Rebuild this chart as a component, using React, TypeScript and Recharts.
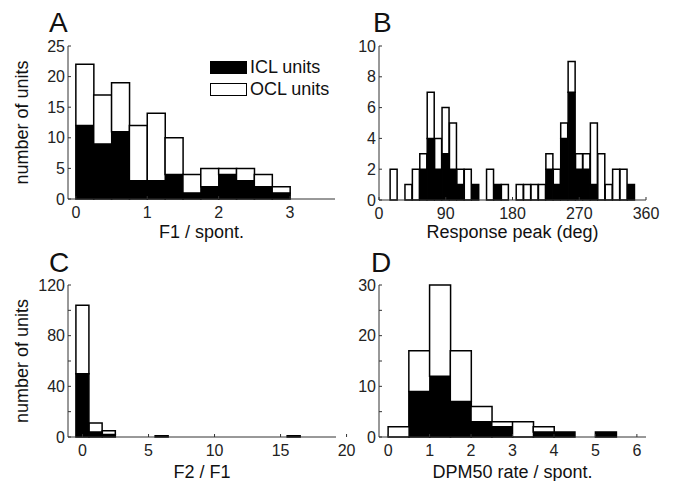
import React from 'react';
import { BarChart, Bar, XAxis, YAxis, Legend } from 'recharts';

const FONT = '"Liberation Sans", Arial, Helvetica, sans-serif';

// A: F1 / spont. (bins of 0.25, given by centre)
const f1Bins = [0.125, 0.375, 0.625, 0.875, 1.125, 1.375, 1.625, 1.875, 2.125, 2.375, 2.625, 2.875, 3.125, 3.375];
const f1Icl = [12, 9, 11, 3, 3, 4, 1, 2, 4, 3, 2, 1, 0, 0];
const f1All = [22, 17, 19, 12, 14, 10, 4, 5, 5, 5, 4, 2, 0, 0];

// B: response peak (deg), 10 deg bins
const peakBins = [20, 30, 40, 50, 60, 70, 80, 90, 100, 110, 120, 130, 140, 150, 160, 170, 180,
  190, 200, 210, 220, 230, 240, 250, 260, 270, 280, 290, 300, 310, 320, 330, 340];
const peakIcl = [0, 0, 0, 0, 2, 4, 2, 3, 2, 1, 0, 1, 0, 0, 1, 0, 0,
  0, 0, 0, 0, 2, 1, 4, 7, 2, 2, 1, 0, 0, 0, 0, 1];
const peakAll = [2, 0, 1, 2, 3, 7, 4, 6, 5, 2, 2, 1, 0, 2, 1, 1, 0,
  1, 1, 1, 1, 3, 2, 5, 9, 3, 3, 5, 3, 1, 2, 2, 1];

// C: F2 / F1, unit bins
const f2Bins = [0, 1, 2, 3, 4, 5, 6, 7, 8, 9, 10, 11, 12, 13, 14, 15, 16, 17, 18];
const f2Icl = [50, 4, 2, 0, 0, 0, 1, 0, 0, 0, 0, 0, 0, 0, 0, 0, 1, 0, 0];
const f2All = [104, 11, 5, 0, 0, 0, 1, 0, 0, 0, 0, 0, 0, 0, 0, 0, 1, 0, 0];

// D: DPM50 rate / spont., bins of 0.5
const dpmBins = [0.25, 0.75, 1.25, 1.75, 2.25, 2.75, 3.25, 3.75, 4.25, 4.75, 5.25, 5.75];
const dpmIcl = [0, 9, 12, 7, 3, 2, 0, 1, 1, 0, 1, 0];
const dpmAll = [2, 17, 30, 17, 6, 3, 3, 2, 1, 0, 1, 0];

function toRows(bins: number[], icl: number[], all: number[]) {
  return bins.map((x, i) => ({ x, icl: icl[i], ocl: all[i] - icl[i] }));
}

function LegendBoxes({ payload }: any) {
  return (
    <div style={{ fontFamily: FONT, fontSize: 18, color: '#111' }}>
      {(payload ?? []).map((e: any) => (
        <div key={e.value} style={{ display: 'flex', alignItems: 'center', height: 14, marginBottom: 8 }}>
          <span
            style={{
              display: 'inline-block',
              width: 35,
              height: 11,
              background: e.color,
              border: '1px solid #000',
            }}
          />
          <span style={{ marginLeft: 3, lineHeight: '14px' }}>{e.value}</span>
        </div>
      ))}
    </div>
  );
}

interface HistProps {
  left: number;
  top: number;
  width: number;
  height: number;
  marginTop: number;
  marginRight: number;
  yAxisWidth: number;
  xAxisHeight: number;
  data: { x: number; icl: number; ocl: number }[];
  xDomain: [number, number];
  xTicks: number[];
  yDomain: [number, number];
  yTicks: number[];
  yLabelled: number[];
  xLabel: string;
  xLabelOffset: number;
  yLabel?: string;
  showLegend?: boolean;
}

const tickStyle = { fontSize: 16, fill: '#222', fontFamily: FONT };
const axisColor = '#333';

function Histogram(p: HistProps) {
  return (
    <div style={{ position: 'absolute', left: p.left, top: p.top }}>
      <BarChart
        width={p.width}
        height={p.height}
        data={p.data}
        margin={{ top: p.marginTop, right: p.marginRight, left: 0, bottom: 0 }}
        barCategoryGap={0}
        barGap={0}
      >
        <XAxis
          dataKey="x"
          type="number"
          domain={p.xDomain}
          ticks={p.xTicks}
          interval={0}
          allowDataOverflow
          height={p.xAxisHeight}
          tick={tickStyle}
          tickSize={-3}
          tickMargin={11}
          stroke={axisColor}
          label={{
            value: p.xLabel,
            position: 'insideBottom',
            offset: p.xLabelOffset,
            fontSize: 18,
            fill: '#111',
            fontFamily: FONT,
          }}
        />
        <YAxis
          type="number"
          domain={p.yDomain}
          ticks={p.yTicks}
          interval={0}
          width={p.yAxisWidth}
          tick={tickStyle}
          tickSize={-3}
          tickMargin={6}
          stroke={axisColor}
          tickFormatter={(v: number) => (p.yLabelled.includes(v) ? String(v) : '')}
          label={
            p.yLabel
              ? {
                  value: p.yLabel,
                  angle: -90,
                  position: 'insideLeft',
                  offset: 22,
                  textAnchor: 'middle',
                  fontSize: 18,
                  fill: '#111',
                  fontFamily: FONT,
                }
              : undefined
          }
        />
        {p.showLegend && (
          <Legend
            layout="horizontal"
            verticalAlign="middle"
            align="center"
            content={LegendBoxes}
            wrapperStyle={{ left: 210, top: 60, width: 130, height: 44 }}
          />
        )}
        <Bar dataKey="icl" name="ICL units" stackId="s" fill="#000" stroke="#000" strokeWidth={1.5} isAnimationActive={false} />
        <Bar dataKey="ocl" name="OCL units" stackId="s" fill="#fff" stroke="#000" strokeWidth={1.5} isAnimationActive={false} />
      </BarChart>
    </div>
  );
}

const letterStyle: React.CSSProperties = {
  position: 'absolute',
  fontFamily: FONT,
  fontSize: 28,
  lineHeight: '28px',
  color: '#111',
};

export default function App() {
  return (
    <div style={{ position: 'absolute', left: 0, top: 0, width: 674, height: 481, background: '#fff', overflow: 'hidden' }}>
      <Histogram
        left={0}
        top={0}
        width={345}
        height={245}
        marginTop={46}
        marginRight={10}
        yAxisWidth={68}
        xAxisHeight={46}
        data={toRows(f1Bins, f1Icl, f1All)}
        xDomain={[-0.11, 3.63]}
        xTicks={[0, 1, 2, 3]}
        yDomain={[0, 25]}
        yTicks={[0, 5, 10, 15, 20, 25]}
        yLabelled={[0, 5, 10, 15, 20, 25]}
        xLabel="F1 / spont."
        xLabelOffset={7}
        yLabel="number of units"
        showLegend
      />
      <Histogram
        left={330}
        top={0}
        width={344}
        height={245}
        marginTop={46}
        marginRight={28}
        yAxisWidth={49}
        xAxisHeight={45}
        data={toRows(peakBins, peakIcl, peakAll)}
        xDomain={[0, 360]}
        xTicks={[0, 90, 180, 270, 360]}
        yDomain={[0, 10]}
        yTicks={[0, 2, 4, 6, 8, 10]}
        yLabelled={[0, 2, 4, 6, 8, 10]}
        xLabel="Response peak (deg)"
        xLabelOffset={7}
      />
      <Histogram
        left={0}
        top={230}
        width={360}
        height={251}
        marginTop={55}
        marginRight={24}
        yAxisWidth={68}
        xAxisHeight={44}
        data={toRows(f2Bins, f2Icl, f2All)}
        xDomain={[-1.1, 19.2]}
        xTicks={[0, 5, 10, 15, 20]}
        yDomain={[0, 120]}
        yTicks={[0, 20, 40, 60, 80, 100, 120]}
        yLabelled={[0, 40, 80, 120]}
        xLabel="F2 / F1"
        xLabelOffset={3}
        yLabel="number of units"
      />
      <Histogram
        left={330}
        top={230}
        width={344}
        height={251}
        marginTop={55}
        marginRight={28}
        yAxisWidth={49}
        xAxisHeight={44}
        data={toRows(dpmBins, dpmIcl, dpmAll)}
        xDomain={[-0.22, 6.22]}
        xTicks={[0, 1, 2, 3, 4, 5, 6]}
        yDomain={[0, 30]}
        yTicks={[0, 5, 10, 15, 20, 25, 30]}
        yLabelled={[0, 10, 20, 30]}
        xLabel="DPM50 rate / spont."
        xLabelOffset={3}
      />
      <div style={{ ...letterStyle, left: 49, top: 9 }}>A</div>
      <div style={{ ...letterStyle, left: 373, top: 9 }}>B</div>
      <div style={{ ...letterStyle, left: 49, top: 249 }}>C</div>
      <div style={{ ...letterStyle, left: 371, top: 249 }}>D</div>
    </div>
  );
}
